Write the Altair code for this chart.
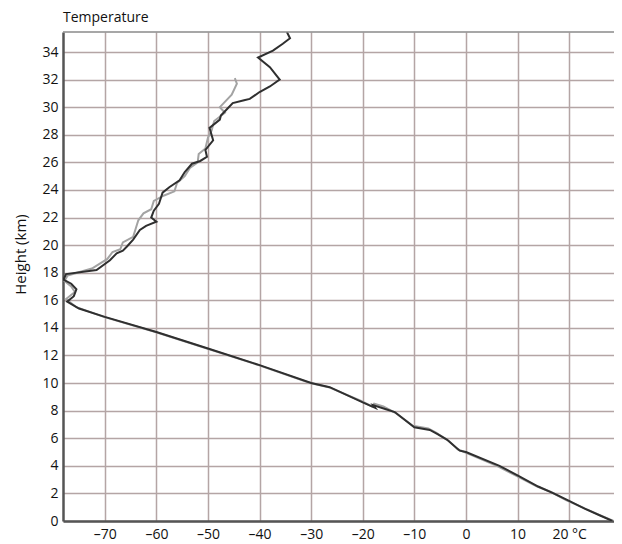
import altair as alt
import pandas as pd

# ---- data ----
dark_temp = [28.4, 26.0, 23.0, 19.8, 17.0, 14.0, 10.0, 6.5, 0.0, -1.2, -3.7, -5.5, -7.0, -10.0,
             -13.8, -15.5, -18.0, -17.6, -20.0, -26.4, -30.0, -40.0, -50.0, -60.0, -70.0,
             -75.0, -77.3, -76.0, -75.5, -76.5, -78.0, -77.5, -71.6, -69.0, -67.7, -66.5,
             -65.7, -64.5, -63.2, -62.0, -60.0, -61.0, -60.5, -59.5, -58.8, -57.5, -55.5,
             -54.5, -53.1, -51.5, -50.2, -50.5, -49.0, -49.7, -47.7, -47.5, -46.2, -45.2,
             -43.0, -41.9, -40.0, -38.0, -36.1, -38.0, -40.3, -37.4, -35.5, -34.1, -34.7]
dark_height = [0.0, 0.4, 0.9, 1.5, 2.0, 2.5, 3.3, 4.0, 5.0, 5.1, 5.9, 6.3, 6.6, 6.8,
               7.9, 8.1, 8.4, 8.2, 8.6, 9.7, 10.0, 11.3, 12.5, 13.7, 14.8,
               15.4, 15.9, 16.3, 16.8, 17.2, 17.5, 17.9, 18.2, 18.9, 19.4, 19.6,
               19.9, 20.4, 21.1, 21.4, 21.7, 22.0, 22.5, 23.0, 23.8, 24.2, 24.7,
               25.3, 25.9, 26.1, 26.4, 26.9, 27.6, 28.5, 29.1, 29.4, 29.9, 30.3,
               30.5, 30.6, 31.1, 31.5, 32.0, 32.9, 33.6, 34.1, 34.6, 35.0, 35.45]

gray_temp = [28.6, 25.5, 22.5, 19.5, 16.5, 13.8, 9.6, 6.0, -0.3, -1.6, -3.3, -5.8, -7.3, -10.3,
             -13.5, -16.0, -17.8, -18.2, -20.3, -26.6, -30.2, -40.2, -50.2, -60.2, -70.2,
             -75.5, -77.5, -75.8, -76.5, -77.8, -77.2, -72.5, -69.5, -68.5, -67.0, -66.5,
             -64.5, -64.0, -63.5, -62.5, -61.0, -60.5, -58.5, -56.5, -56.0, -54.5, -53.5,
             -52.0, -51.8, -50.5, -50.0, -49.3, -48.8, -46.7, -47.7, -45.4, -44.4, -44.8]
gray_height = [0.0, 0.5, 1.0, 1.5, 2.1, 2.5, 3.3, 4.0, 5.0, 5.2, 5.8, 6.4, 6.7, 6.9,
               7.8, 8.3, 8.5, 8.3, 8.7, 9.7, 10.0, 11.3, 12.5, 13.7, 14.8,
               15.5, 16.1, 16.6, 17.0, 17.4, 17.8, 18.3, 19.0, 19.5, 19.7, 20.2,
               20.6, 21.2, 21.8, 22.3, 22.6, 23.2, 23.6, 23.9, 24.5, 25.0, 25.6,
               26.0, 26.6, 27.0, 27.8, 28.3, 29.0, 29.6, 30.0, 30.9, 31.7, 32.1]

x_ticks = [-70, -60, -50, -40, -30, -20, -10, 0, 10, 20]
y_ticks = [0, 2, 4, 6, 8, 10, 12, 14, 16, 18, 20, 22, 24, 26, 28, 30, 32, 34]

dark_df = pd.DataFrame({"t": dark_temp, "h": dark_height, "i": range(len(dark_temp))})
gray_df = pd.DataFrame({"t": gray_temp, "h": gray_height, "i": range(len(gray_temp))})

W, H = 551, 489
FONT = "Open Sans"
GRID = "#b4a5a5"

x_scale = alt.Scale(domain=[-78.1, 28.7], nice=False, zero=False)
y_scale = alt.Scale(domain=[0, 35.45], nice=False, zero=False)

x_axis = alt.Axis(values=x_ticks, title=None, grid=True, gridColor=GRID, gridWidth=1.5,
                  ticks=False, domainColor="#555555", domainWidth=2.5, labelPadding=6,
                  labelFont=FONT, labelFontSize=14, labelColor="#111111", labelOverlap=False,
                  labelExpr="datum.value == 20 ? '20 °C' : (datum.value < 0 ? '–' + abs(datum.value) : '' + datum.value)")
y_axis = alt.Axis(values=y_ticks, title="Height (km)", grid=True, gridColor=GRID, gridWidth=1.5,
                  ticks=False, domainColor="#555555", domainWidth=2.5, labelPadding=5,
                  labelFont=FONT, labelFontSize=14, labelColor="#111111", labelOverlap=False,
                  titleFont=FONT, titleFontSize=15, titleFontWeight="normal", titleColor="#111111",
                  titleY=222, titlePadding=13)

gray = alt.Chart(gray_df).mark_line(color="#a3a3a3", strokeWidth=2, clip=True).encode(
    x=alt.X("t:Q", scale=x_scale, axis=x_axis),
    y=alt.Y("h:Q", scale=y_scale, axis=y_axis),
    order="i:Q",
)
dark = alt.Chart(dark_df).mark_line(color="#2f2f2f", strokeWidth=2, clip=True).encode(
    x=alt.X("t:Q", scale=x_scale, axis=x_axis),
    y=alt.Y("h:Q", scale=y_scale, axis=y_axis),
    order="i:Q",
)
top_border = alt.Chart(pd.DataFrame({"a": [0]})).mark_rule(color="#8a8a8a", strokeWidth=1.5).encode(
    x=alt.value(0), x2=alt.value(W), y=alt.value(0)
)

chart = alt.layer(gray, dark, top_border).properties(
    width=W, height=H,
    title=alt.TitleParams("Temperature", anchor="start", frame="group", font=FONT, fontSize=14,
                          fontWeight="normal", color="#111111", offset=6),
    autosize=alt.AutoSizeParams(type="none"),
    padding={"left": 55, "top": 24, "right": 0, "bottom": 24},
).configure_view(stroke=None)

chart.save("out.html", embed_options={"renderer": "svg", "actions": False})
